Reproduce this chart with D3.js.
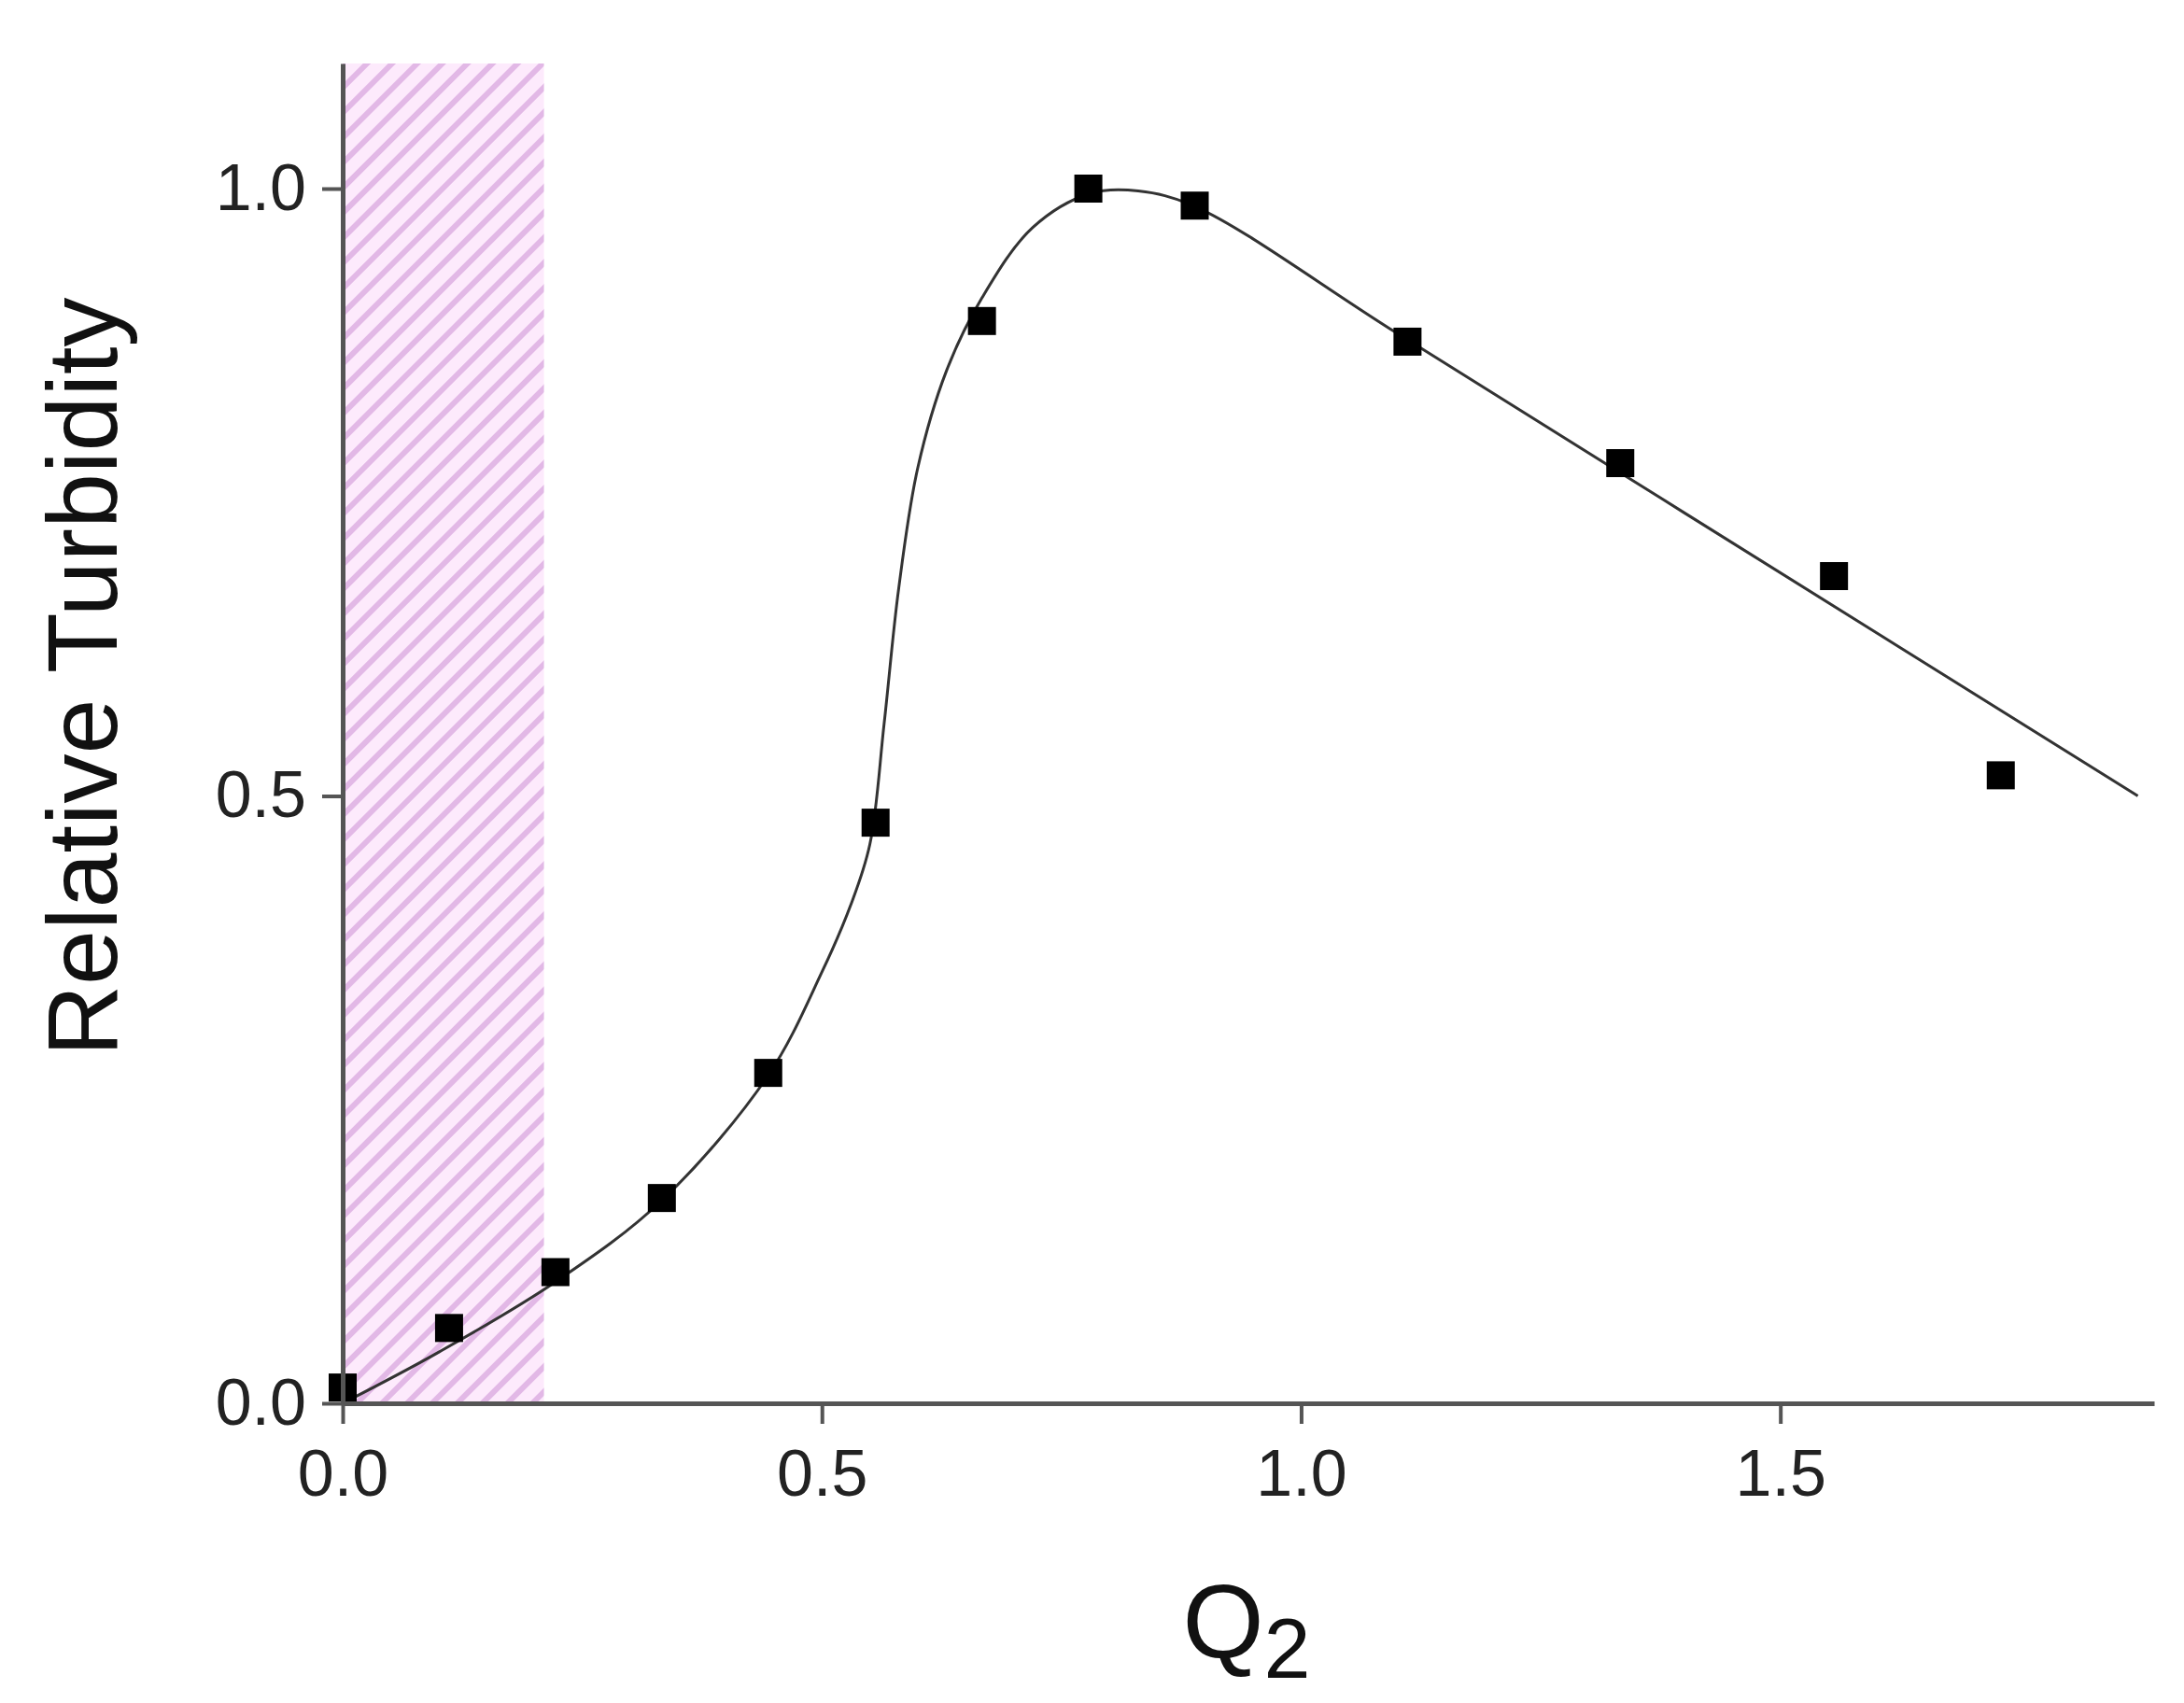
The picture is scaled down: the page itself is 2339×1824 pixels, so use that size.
<!DOCTYPE html>
<html><head><meta charset="utf-8">
<script src="https://cdn.jsdelivr.net/npm/d3@7"></script>
<style>body{margin:0;background:#fff}</style>
</head><body>
<div class="chart"></div>
<script>
// measured points
const q2 = [0, 0.111, 0.222, 0.333, 0.444, 0.556, 0.667, 0.778, 0.889, 1.111, 1.333, 1.556, 1.73];
const turbidity = [0.013, 0.062, 0.108, 0.169, 0.272, 0.478, 0.891, 1.0, 0.986, 0.874, 0.774, 0.681, 0.517];
// fitted curve
const fitX = [0, 0.1, 0.222, 0.333, 0.444, 0.5, 0.53, 0.55, 0.565, 0.58, 0.6, 0.63, 0.667, 0.72, 0.78, 0.83, 0.89, 1.1, 1.4, 1.873];
const fitY = [0, 0.042, 0.1, 0.167, 0.27, 0.355, 0.41, 0.46, 0.56, 0.67, 0.77, 0.85, 0.91, 0.968, 0.996, 0.998, 0.985, 0.881, 0.733, 0.5];
const xTicks = [0, 0.5, 1.0, 1.5];
const yTicks = [0, 0.5, 1.0];
const shadeRange = [0, 0.21];

const W = 2339, H = 1824;
const svg = d3.select('.chart').append('svg').attr('width', W).attr('height', H);

const x = d3.scaleLinear().domain([0, 1.89]).range([367, 2307]);
const y = d3.scaleLinear().domain([0, 1.103]).range([1503, 68]);

const defs = svg.append('defs');
const pat = defs.append('pattern').attr('id', 'hatch').attr('patternUnits', 'userSpaceOnUse')
    .attr('width', 19).attr('height', 19).attr('patternTransform', 'rotate(45)');
pat.append('rect').attr('width', 19).attr('height', 19).attr('fill', '#fdeafc');
pat.append('rect').attr('width', 6).attr('height', 19).attr('fill', '#e2b8e6');

svg.append('rect')
    .attr('x', x(shadeRange[0])).attr('y', y(1.103))
    .attr('width', x(shadeRange[1]) - x(shadeRange[0]))
    .attr('height', y(0) - y(1.103))
    .attr('fill', 'url(#hatch)');

const fit = fitX.map((v, i) => [v, fitY[i]]);
svg.append('path').datum(fit)
    .attr('d', d3.line().x(d => x(d[0])).y(d => y(d[1])).curve(d3.curveCatmullRom.alpha(0.5)))
    .attr('fill', 'none').attr('stroke', '#333').attr('stroke-width', 3);

const s = 30;
svg.selectAll('rect.pt').data(q2).enter().append('rect')
    .attr('class', 'pt')
    .attr('x', d => x(d) - s / 2)
    .attr('y', (d, i) => y(turbidity[i]) - s / 2)
    .attr('width', s).attr('height', s).attr('fill', '#000');

const xAxis = svg.append('g').attr('transform', 'translate(0,1503)')
    .call(d3.axisBottom(x).tickValues(xTicks).tickFormat(d3.format('.1f')).tickSize(22).tickSizeOuter(0));
const yAxis = svg.append('g').attr('transform', 'translate(367,0)')
    .call(d3.axisLeft(y).tickValues(yTicks).tickFormat(d3.format('.1f')).tickSize(22).tickSizeOuter(0));
[xAxis, yAxis].forEach(g => {
  g.select('.domain').attr('stroke', '#555').attr('stroke-width', 5);
  g.selectAll('.tick line').attr('stroke', '#555').attr('stroke-width', 4);
  g.selectAll('.tick text').attr('font-family', 'Liberation Sans, Arial').attr('font-size', 70).attr('fill', '#222');
});
xAxis.selectAll('.tick text').attr('dy', '1.05em');
xAxis.select('.tick line').attr('transform', 'translate(0,-22)').attr('y2', 44);
yAxis.selectAll('.tick text').attr('dx', '-0.2em');

svg.append('text').attr('transform', 'translate(125,725) rotate(-90)')
    .attr('text-anchor', 'middle').attr('font-family', 'Liberation Sans, Arial')
    .attr('font-size', 106).attr('fill', '#111').text('Relative Turbidity');

const xl = svg.append('text').attr('x', 1335).attr('y', 1775).attr('text-anchor', 'middle')
    .attr('font-family', 'Liberation Sans, Arial').attr('font-size', 112).attr('fill', '#111');
xl.append('tspan').text('Q');
xl.append('tspan').attr('dy', 22).attr('font-size', 90).text('2');
</script>
</body></html>
